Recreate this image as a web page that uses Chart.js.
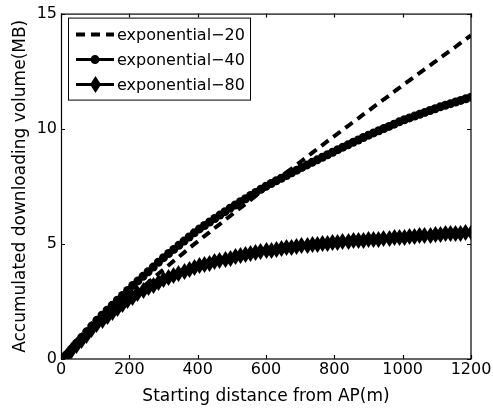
<!DOCTYPE html>
<html>
<head>
<meta charset="utf-8">
<script src="https://cdn.jsdelivr.net/npm/chart.js@4.4.0/dist/chart.umd.min.js"></script>
<style>
  html, body { margin: 0; padding: 0; background: #fff; }
</style>
</head>
<body>
<canvas id="volChart" width="493" height="410"></canvas>
<script>
// starting distance from AP (m)
const distances = [15, 30, 45, 60, 75, 90, 105, 120, 135, 150,
  165, 180, 195, 210, 225, 240, 255, 270, 285, 300,
  315, 330, 345, 360, 375, 390, 405, 420, 435, 450,
  465, 480, 495, 510, 525, 540, 555, 570, 585, 600,
  615, 630, 645, 660, 675, 690, 705, 720, 735, 750,
  765, 780, 795, 810, 825, 840, 855, 870, 885, 900,
  915, 930, 945, 960, 975, 990, 1005, 1020, 1035, 1050,
  1065, 1080, 1095, 1110, 1125, 1140, 1155, 1170, 1185, 1200];

// accumulated downloading volume (MB)
const exp20 = [0.18, 0.38, 0.58, 0.78, 0.98, 1.18, 1.38, 1.58, 1.78, 1.97,
  2.17, 2.37, 2.56, 2.76, 2.95, 3.14, 3.32, 3.51, 3.70, 3.88,
  4.07, 4.26, 4.44, 4.62, 4.81, 4.99, 5.16, 5.34, 5.51, 5.69,
  5.86, 6.04, 6.21, 6.39, 6.56, 6.73, 6.91, 7.08, 7.26, 7.43,
  7.60, 7.77, 7.94, 8.11, 8.27, 8.44, 8.61, 8.78, 8.95, 9.12,
  9.29, 9.46, 9.63, 9.79, 9.96, 10.12, 10.29, 10.45, 10.62, 10.78,
  10.95, 11.11, 11.28, 11.44, 11.61, 11.77, 11.94, 12.10, 12.26, 12.43,
  12.59, 12.75, 12.91, 13.08, 13.24, 13.40, 13.56, 13.73, 13.89, 14.05];
const exp40 = [0.17, 0.42, 0.68, 0.93, 1.18, 1.43, 1.68, 1.90, 2.12, 2.33,
  2.55, 2.76, 2.98, 3.19, 3.39, 3.59, 3.79, 3.99, 4.20, 4.40,
  4.58, 4.76, 4.94, 5.12, 5.30, 5.48, 5.65, 5.80, 5.95, 6.10,
  6.25, 6.40, 6.55, 6.69, 6.83, 6.96, 7.10, 7.23, 7.37, 7.50,
  7.62, 7.74, 7.85, 7.97, 8.09, 8.20, 8.32, 8.43, 8.54, 8.65,
  8.76, 8.87, 8.98, 9.09, 9.20, 9.30, 9.41, 9.51, 9.62, 9.72,
  9.82, 9.91, 10.01, 10.10, 10.20, 10.30, 10.39, 10.47, 10.55, 10.63,
  10.71, 10.79, 10.87, 10.95, 11.02, 11.09, 11.16, 11.23, 11.30, 11.37];
const exp80 = [0.13, 0.36, 0.59, 0.82, 1.04, 1.27, 1.48, 1.67, 1.85, 2.03,
  2.20, 2.37, 2.54, 2.69, 2.83, 2.96, 3.09, 3.21, 3.33, 3.45,
  3.55, 3.64, 3.73, 3.81, 3.89, 3.97, 4.04, 4.10, 4.16, 4.22,
  4.28, 4.33, 4.38, 4.43, 4.48, 4.52, 4.56, 4.61, 4.65, 4.70,
  4.73, 4.77, 4.80, 4.83, 4.86, 4.89, 4.92, 4.94, 4.96, 4.98,
  5.01, 5.03, 5.05, 5.07, 5.09, 5.11, 5.13, 5.15, 5.16, 5.18,
  5.20, 5.21, 5.23, 5.25, 5.26, 5.28, 5.29, 5.31, 5.33, 5.35,
  5.36, 5.38, 5.40, 5.41, 5.43, 5.44, 5.46, 5.47, 5.49, 5.50];

const seriesNames = ['exponential\u221220', 'exponential\u221240', 'exponential\u221280'];
const xTicks = [0, 200, 400, 600, 800, 1000, 1200];
const yTicks = [0, 5, 10, 15];

const FONT = 'DejaVu Sans';
const toPoints = ys => ys.map((v, i) => ({ x: distances[i], y: v }));

// tall matlab-ish diamond marker
function diamondMarker(w, h) {
  const c = document.createElement('canvas');
  c.width = w; c.height = h;
  const g = c.getContext('2d');
  g.fillStyle = '#000';
  g.beginPath();
  g.moveTo(w / 2, 0); g.lineTo(w, h / 2); g.lineTo(w / 2, h); g.lineTo(0, h / 2);
  g.closePath();
  g.fill();
  return c;
}
const diamond = diamondMarker(11, 17);

// keep image markers crisp
const crispMarkers = {
  id: 'crispMarkers',
  beforeDatasetsDraw(chart) { chart.ctx.imageSmoothingEnabled = false; },
  afterDatasetsDraw(chart) { chart.ctx.imageSmoothingEnabled = true; }
};

// box round the plot + inward ticks on all four sides
const frameTicks = {
  id: 'frameTicks',
  afterDraw(chart) {
    const { ctx, chartArea: a, scales: { x, y } } = chart;
    ctx.save();
    ctx.strokeStyle = '#000';
    ctx.lineWidth = 1.2;
    ctx.strokeRect(a.left + 0.5, a.top + 0.5, a.right - a.left - 0.5, a.bottom - a.top - 0.5);
    ctx.beginPath();
    xTicks.forEach(v => {
      const px = Math.round(x.getPixelForValue(v)) + 0.5;
      ctx.moveTo(px, a.bottom); ctx.lineTo(px, a.bottom - 4);
      ctx.moveTo(px, a.top); ctx.lineTo(px, a.top + 4);
    });
    yTicks.forEach(v => {
      const py = Math.round(y.getPixelForValue(v)) + 0.5;
      ctx.moveTo(a.left, py); ctx.lineTo(a.left + 4, py);
      ctx.moveTo(a.right, py); ctx.lineTo(a.right - 4, py);
    });
    ctx.stroke();
    ctx.restore();
  }
};

// legend box inside the top-left corner
const insideLegend = {
  id: 'insideLegend',
  afterDraw(chart) {
    const { ctx, chartArea: a } = chart;
    const bx = a.left + 7, by = a.top + 4, bw = 182, bh = 82;
    ctx.save();
    ctx.fillStyle = '#fff';
    ctx.fillRect(bx, by, bw, bh);
    ctx.strokeStyle = '#000';
    ctx.lineWidth = 1;
    ctx.strokeRect(bx + 0.5, by + 0.5, bw, bh);
    seriesNames.forEach((name, i) => {
      const ds = chart.data.datasets.find(d => d.label === name);
      const rowY = by + 17 + i * 25;
      const x0 = bx + 8, x1 = bx + 46, cx = (x0 + x1) / 2;
      ctx.strokeStyle = ds.borderColor;
      ctx.lineWidth = ds.borderWidth;
      ctx.setLineDash(ds.borderDash || []);
      ctx.beginPath();
      ctx.moveTo(x0, rowY); ctx.lineTo(x1, rowY);
      ctx.stroke();
      ctx.setLineDash([]);
      if (ds.pointStyle instanceof HTMLCanvasElement) {
        ctx.drawImage(ds.pointStyle, Math.round(cx - ds.pointStyle.width / 2), Math.round(rowY - ds.pointStyle.height / 2));
      } else if (ds.pointRadius > 0) {
        ctx.fillStyle = ds.pointBackgroundColor;
        ctx.beginPath();
        ctx.arc(cx, rowY, ds.pointRadius, 0, Math.PI * 2);
        ctx.fill();
      }
      ctx.fillStyle = '#000';
      ctx.font = '16px "' + FONT + '"';
      ctx.textBaseline = 'middle';
      ctx.textAlign = 'left';
      ctx.fillText(name, bx + 49, rowY + 1);
    });
    ctx.restore();
  }
};

new Chart(document.getElementById('volChart'), {
  type: 'line',
  data: {
    datasets: [
      {
        label: seriesNames[0], data: toPoints(exp20), order: 3,
        borderColor: '#000', borderWidth: 4, borderDash: [9, 6],
        pointRadius: 0, fill: false, tension: 0
      },
      {
        label: seriesNames[1], data: toPoints(exp40), order: 2,
        borderColor: '#000', borderWidth: 3, pointStyle: 'circle',
        pointRadius: 4.5, pointBorderWidth: 0, pointBackgroundColor: '#000',
        fill: false, tension: 0
      },
      {
        label: seriesNames[2], data: toPoints(exp80), order: 1,
        borderColor: '#000', borderWidth: 3, pointStyle: diamond,
        pointRadius: 8, pointBorderWidth: 0, pointBackgroundColor: '#000',
        fill: false, tension: 0
      }
    ]
  },
  options: {
    responsive: false,
    animation: false,
    layout: { padding: { left: 0, top: 13, right: 22, bottom: 0 } },
    plugins: { legend: { display: false }, tooltip: { enabled: false } },
    scales: {
      x: {
        type: 'linear', min: 0, max: 1200,
        afterBuildTicks: s => { s.ticks = xTicks.map(v => ({ value: v })); },
        afterFit: s => { s.height = 51; },
        grid: { display: false, drawTicks: false },
        border: { display: false },
        ticks: {
          color: '#000', padding: 1, maxRotation: 0,
          font: { family: FONT, size: 16 }, callback: v => String(v)
        },
        title: {
          display: true, text: 'Starting distance from AP(m)', color: '#000',
          font: { family: FONT, size: 17 }, padding: { top: 0, bottom: 3 }
        }
      },
      y: {
        type: 'linear', min: 0, max: 15,
        afterBuildTicks: s => { s.ticks = yTicks.map(v => ({ value: v })); },
        afterFit: s => { s.width = 61; },
        grid: { display: false, drawTicks: false },
        border: { display: false },
        ticks: {
          color: '#000', padding: 4,
          font: { family: FONT, size: 16 }, callback: v => String(v)
        },
        title: {
          display: true, text: 'Accumulated downloading volume(MB)', color: '#000',
          font: { family: FONT, size: 17 }, padding: { top: 10, bottom: 0 }
        }
      }
    }
  },
  plugins: [crispMarkers, frameTicks, insideLegend]
});
</script>
</body>
</html>
